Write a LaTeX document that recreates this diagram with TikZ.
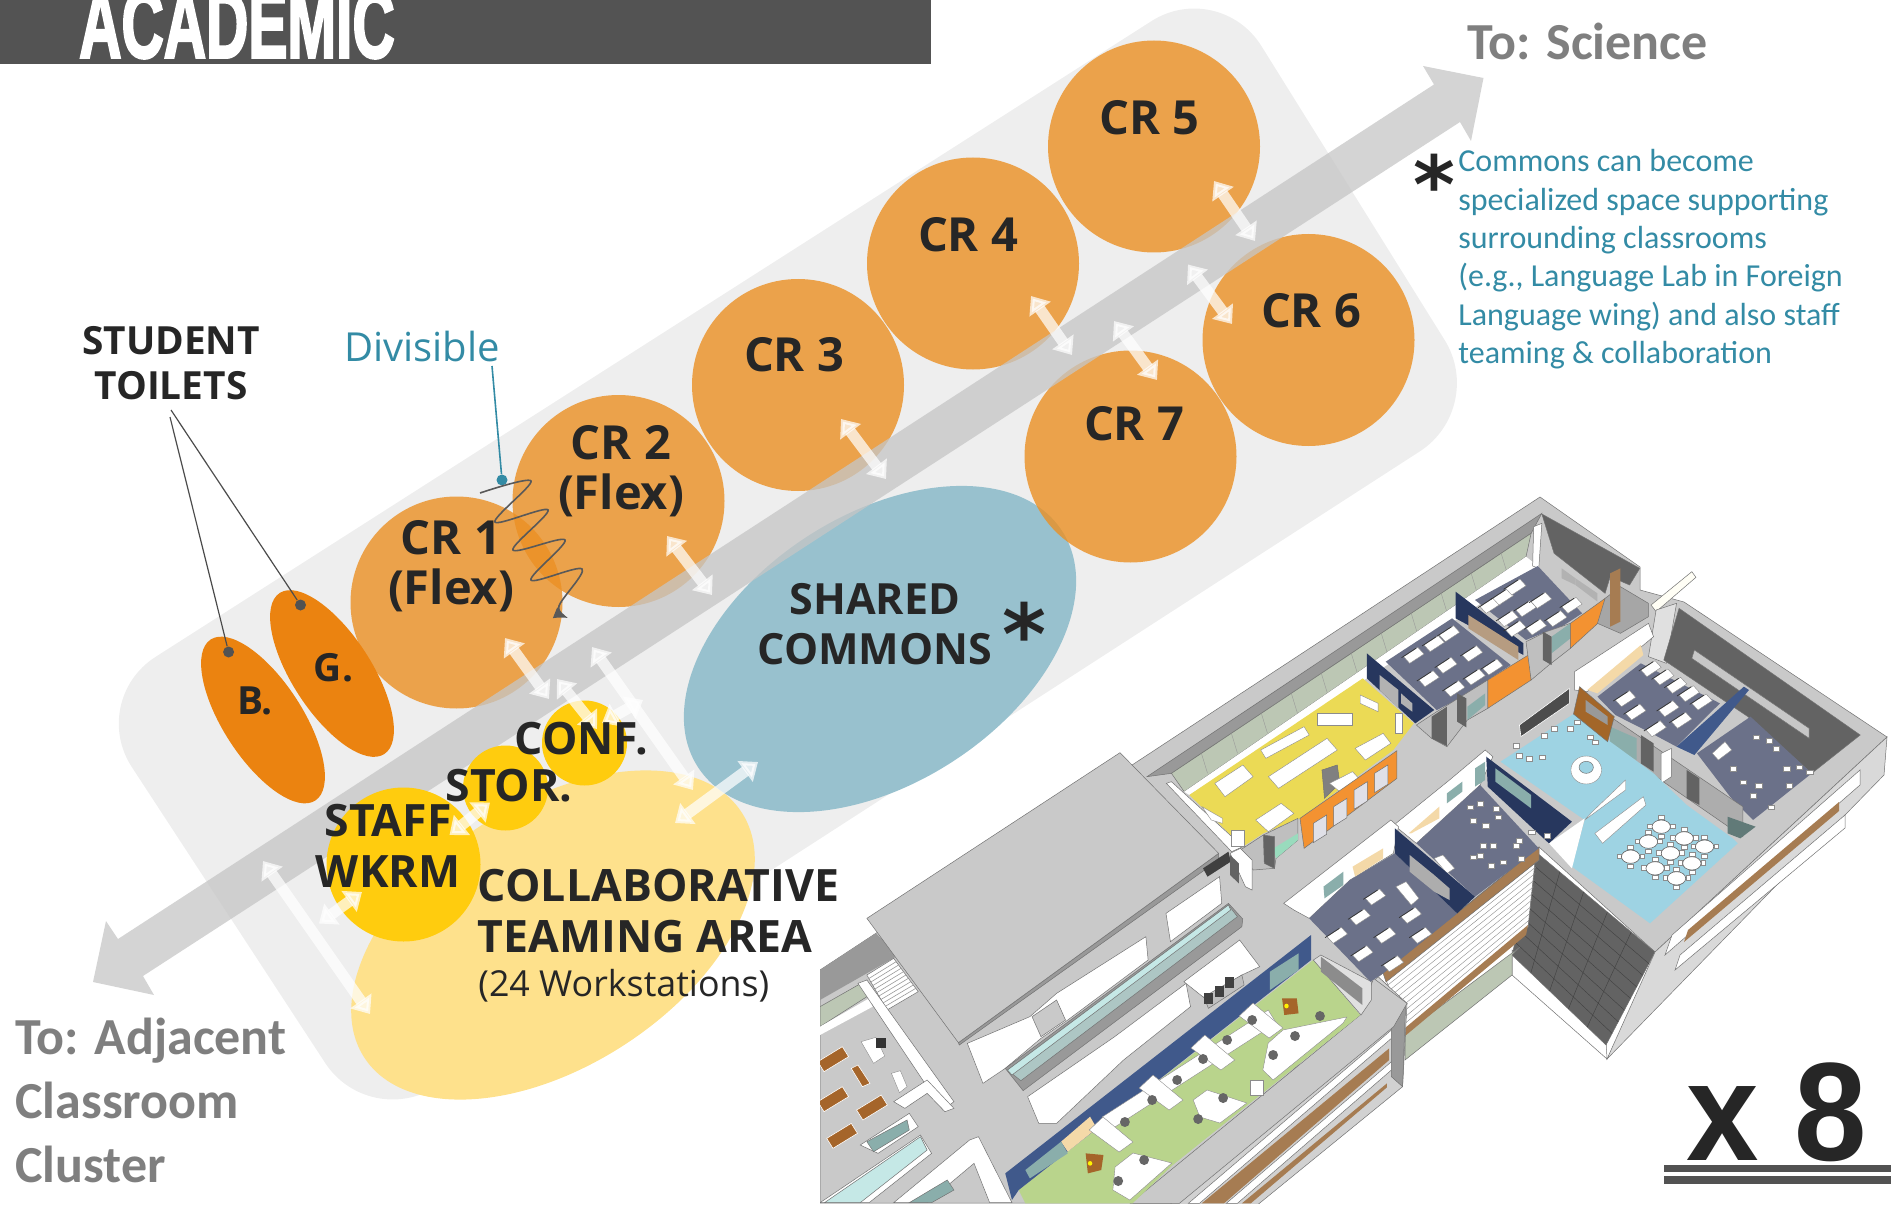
\documentclass[tikz,border=0pt]{standalone}
\usepackage{fontspec}
\setmainfont{Open Sans}
\newfontfamily\calfont{Carlito}
\newfontfamily\barfont{Liberation Sans}
\newfontfamily\heavyfont[BoldFeatures={FakeBold=3}]{Liberation Sans}
\newfontfamily\starfont{DejaVu Sans}
\usetikzlibrary{arrows.meta,shapes.geometric,calc}
\definecolor{barGrey}{HTML}{535353}
\definecolor{paleBand}{HTML}{EEEEEE}
\definecolor{mainArrow}{RGB}{198,198,198}
\definecolor{crOrange}{RGB}{235,144,35}
\definecolor{wcOrange}{HTML}{EB8310}
\definecolor{commonsBlue}{HTML}{98C1CE}
\definecolor{teamYellow}{HTML}{FEE18C}
\definecolor{smallYellow}{HTML}{FFCC0E}
\definecolor{inkDark}{HTML}{262626}
\definecolor{tealText}{HTML}{338BA5}
\definecolor{toGrey}{HTML}{7F7F7F}
\definecolor{floorGrey}{HTML}{C9C9C9}
\definecolor{rimDark}{HTML}{999999}
\definecolor{wallDark}{HTML}{636363}
\definecolor{slateRoom}{HTML}{6B7189}
\definecolor{navyWall}{HTML}{27375E}
\definecolor{blueWall}{HTML}{40598B}
\definecolor{orangeWall}{HTML}{F39231}
\definecolor{yellowRoom}{HTML}{EBDA55}
\definecolor{greenRoom}{HTML}{B9D48C}
\definecolor{skyRoom}{HTML}{9ED3E3}
\definecolor{glassBand}{HTML}{BCC7B4}
\definecolor{tanPanel}{HTML}{F4D9A8}
\definecolor{brownBand}{HTML}{A67C52}
\definecolor{woodDesk}{HTML}{A5652A}
\definecolor{tealPale}{HTML}{C5E8E6}
\definecolor{tealDeep}{HTML}{8AAEAB}
\newcommand{\deskat}[2]{\filldraw[piece] (#1,#2) -- ++(28,-28) -- ++(12,20) -- ++(-28,28) -- cycle; \draw[black!80,line width=.35pt] (#1-4,#2+3) -- ++(28,-28);}
\newcommand{\seatat}[2]{\filldraw[piece] (#1,#2) rectangle ++(12,14);}
\newcommand{\armat}[2]{\filldraw[piece] (#1,#2) -- ++(67,75) -- ++(-31,30) -- ++(-67,-66) -- cycle;}
\begin{document}
\begin{tikzpicture}[x=0.5pt,y=-0.5pt,
  piece/.style={fill=white,draw=black!45,line width=.2pt},
  zthree/.style={shift={(1100,490)},x=0.2551pt,y=-0.16667pt},
  zfour/.style={shift={(820,740)},x=0.2232pt,y=-0.16667pt},
  bline/.style={draw=black!55,line width=.25pt}]
\useasboundingbox (0,0) rectangle (1900,1209);
\tikzset{crcircle/.style={circle,fill=crOrange,fill opacity=.8,minimum size=106pt,inner sep=0pt}}
\tikzset{wcshape/.style={ellipse,fill=wcOrange,minimum width=96pt,minimum height=39.5pt,inner sep=0pt,rotate=-57}}
\tikzset{smallroom/.style={circle,fill=smallYellow,inner sep=0pt}}
\tikzset{crlabel/.style={font=\fontsize{23.5}{25}\selectfont\bfseries,text=inkDark,align=center,inner sep=0pt}}
\tikzset{roomlabel/.style={font=\fontsize{22.3}{25.5}\selectfont\bfseries,text=inkDark,align=center,inner sep=0pt}}
\tikzset{smalllabel/.style={font=\fontsize{19.4}{22.5}\selectfont\bfseries,text=inkDark,align=center,inner sep=0pt}}
\tikzset{togrey/.style={font=\fontsize{26}{32}\calfont\bfseries,text=toGrey,align=left,inner sep=0pt}}
\tikzset{dblarrow/.style={draw=white,opacity=.72,line width=5.5pt,{Triangle[length=8pt,width=12.5pt]}-{Triangle[length=8pt,width=12.5pt]}}}
\tikzset{leader/.style={draw=black!70,line width=.6pt}}
\tikzset{leaderdot/.style={circle,fill=black!68,minimum size=5.5pt,inner sep=0pt}}
% background band and bar
\fill[paleBand,rounded corners=40pt] (1219,-22) -- (1487,408) -- (369,1130) -- (88,700) -- cycle;
\fill[barGrey] (0,0) rectangle (931,64);
\node[font=\fontsize{48}{48}\heavyfont\bfseries,text=white,anchor=base west,inner sep=0pt,xscale=.61,transform shape] (academic) at (79,57.5) {ACADEMIC};
% big program shapes
\node[ellipse,fill=teamYellow,minimum width=225pt,minimum height=131pt,inner sep=0pt,rotate=33] (team) at (553,935) {};
\node[ellipse,fill=commonsBlue,minimum width=217pt,minimum height=134pt,inner sep=0pt,rotate=33] (commons) at (880,649) {};
\node[crcircle] (cr5) at (1154,146.5) {};
\node[crcircle] (cr4) at (973,263.5) {};
\node[crcircle] (cr6) at (1308.5,340) {};
\node[crcircle] (cr3) at (798,385) {};
\node[crcircle] (cr7) at (1130.5,456.5) {};
\node[crcircle] (cr2) at (618.5,501) {};
\node[crcircle] (cr1) at (456.5,602.5) {};
\node[wcshape] (girls) at (332,673.5) {};
\node[wcshape] (boys) at (263,720) {};
% corridor arrow
\fill[mainArrow,opacity=.76] (1483.5,78) -- (1423,66) -- (1434,84.5) -- (118,939) -- (106,921) -- (93,982) -- (154,995) -- (143,976) -- (1460,122) -- (1471,141) -- cycle;
\node[smallroom,minimum size=77pt] (staff) at (403.5,864.5) {};
\node[smallroom,minimum size=42.5pt] (stor) at (505.5,788) {};
\node[smallroom,minimum size=42.5pt] (conf) at (584.5,743) {};
% movement arrows
\coordinate (ma) at (505,638); \coordinate (mb) at (549,699);
\coordinate (mc) at (667,536); \coordinate (md) at (712,595);
\coordinate (me) at (841,419); \coordinate (mf) at (886,479);
\coordinate (mg) at (1031,296); \coordinate (mh) at (1072,355);
\coordinate (mi) at (1214,181); \coordinate (mj) at (1255,241);
\coordinate (mk) at (1188,264.5); \coordinate (ml) at (1232,324);
\coordinate (mm) at (1114,321); \coordinate (mn) at (1157,380);
\coordinate (mo) at (592,647); \coordinate (mp) at (693,790);
\coordinate (mq) at (557,679); \coordinate (mr) at (597,729);
\coordinate (ms) at (602,723); \coordinate (mt) at (643,700);
\coordinate (mu) at (675,823); \coordinate (mv) at (758,762);
\coordinate (mw) at (449.5,835); \coordinate (mx) at (490,802.5);
\coordinate (my) at (319,923.5); \coordinate (mz) at (362,892);
\coordinate (na) at (263,861); \coordinate (nb) at (370,1014);
\draw[dblarrow] (ma) -- (mb);
\draw[dblarrow] (mc) -- (md);
\draw[dblarrow] (me) -- (mf);
\draw[dblarrow] (mg) -- (mh);
\draw[dblarrow] (mi) -- (mj);
\draw[dblarrow] (mk) -- (ml);
\draw[dblarrow] (mm) -- (mn);
\draw[dblarrow] (mo) -- (mp);
\draw[dblarrow] (mq) -- (mr);
\draw[dblarrow] (ms) -- (mt);
\draw[dblarrow] (mu) -- (mv);
\draw[dblarrow] (mw) -- (mx);
\draw[dblarrow] (my) -- (mz);
\draw[dblarrow] (na) -- (nb);
% labels
\node[crlabel] (lcr5) at (1149.5,118) {CR 5};
\node[crlabel] (lcr4) at (968,234.5) {CR 4};
\node[crlabel] (lcr6) at (1311,310.5) {CR 6};
\node[crlabel] (lcr7) at (1134,423.5) {CR 7};
\node[crlabel] (lcr3) at (794,355) {CR 3};
\node[crlabel] (lcr2) at (621,471.5) {CR 2\\(Flex)};
\node[crlabel] (lcr1) at (451,566) {CR 1\\(Flex)};
\node[smalllabel] (lgirls) at (333.5,668) {G.};
\node[smalllabel] (lboys) at (255,700.5) {B.};
\node[smalllabel] (ltoilets) at (171,363) {STUDENT\\TOILETS};
\node[crlabel,font=\fontsize{21.5}{25}\selectfont\bfseries] (lcommons) at (875,624) {SHARED\\COMMONS};
\node[roomlabel] (lconf) at (581.5,739) {CONF.};
\node[roomlabel] (lstor) at (509,786) {STOR.};
\node[roomlabel] (lstaff) at (388,846) {STAFF\\WKRM};
\node[roomlabel,align=left,anchor=north west] (lteam) at (477.5,869) {COLLABORATIVE\\TEAMING AREA};
\node[font=\fontsize{17.9}{22}\selectfont,text=inkDark,anchor=west,inner sep=0pt] (lworkst) at (478,986) {(24 Workstations)};
\node[font=\fontsize{20}{26}\selectfont,text=tealText,inner sep=0pt] (ldivisible) at (422,346) {Divisible};
\node[font=\fontsize{42}{42}\starfont\bfseries,text=inkDark,anchor=base,inner sep=0pt] (starcommons) at (1024,664) {*};
\node[font=\fontsize{40}{40}\starfont\bfseries,text=inkDark,anchor=base,inner sep=0pt] (starnote) at (1434,214) {*};
\node[togrey,anchor=base west] (lscience) at (1467,60) {To: Science};
\node[togrey,anchor=north west] (ladjacent) at (15,1018) {To: Adjacent\\Classroom\\Cluster};
\node[font=\fontsize{16}{19.2}\calfont,text=tealText,align=left,anchor=north west,inner sep=0pt] (lnote) at (1458,149) {Commons can become\\specialized space supporting\\surrounding classrooms\\(e.g., Language Lab in Foreign\\Language wing) and also staff\\teaming \& collaboration};
% leaders
\node[leaderdot,fill=tealText] (dotdiv) at (502,480) {};
\node[leaderdot] (dotg) at (300.5,605) {};
\node[leaderdot] (dotb) at (228.6,652) {};
\coordinate (divtop) at (492,366);
\coordinate (wctopa) at (171,410);
\coordinate (wctopb) at (170,417);
\draw[draw=tealText,line width=.8pt] (divtop) -- (dotdiv);
\draw[leader] (wctopa) -- (dotg);
\draw[leader] (wctopb) -- (dotb);
\draw[draw=black!65,line width=.8pt,-{Latex[length=7pt,width=6pt]}] plot[smooth,tension=.55] coordinates {(480,493) (531,481) (495,522) (548,510) (513,550) (565,540) (531,580) (582,569) (559,606) (568,618)};
% x 8
\node[font=\fontsize{70}{70}\barfont\bfseries,text=inkDark,anchor=base west,inner sep=0pt,xscale=.93,transform shape] (times) at (1686,1160) {x 8};
\fill[black!68] (1664,1165) rectangle (1891,1172);
\fill[black!68] (1664,1176) rectangle (1891,1184);
% building
\begin{scope}
\clip (820,480) rectangle (1900,1203);
\filldraw[fill=floorGrey,bline] (820,970) -- (1540,497) -- (1640,567) -- (1640,590) -- (1684,602) -- (1887,737) -- (1655,952) -- (1539,847) -- (1378,977) -- (1407,1003) -- (1177,1203) -- (820,1203) -- cycle;
% tower faces
\filldraw[fill=white,bline] (1512,950) -- (1606,1040) -- (1607,1059) -- (1512,975) -- cycle;
\filldraw[fill=wallDark,bline] (1536,852) -- (1655,952) -- (1606,1045) -- (1512,955) -- cycle;
\foreach \s in {1,2,3,4} \draw[black!75,line width=.2pt] ($(1536,852)!\s/5!(1655,952)$) -- ($(1512,955)!\s/5!(1606,1045)$);
\foreach \s in {1,...,7} \draw[black!75,line width=.2pt] ($(1536,852)!\s/8!(1512,955)$) -- ($(1655,952)!\s/8!(1606,1045)$);
\filldraw[fill=black!15,bline] (1655,952) -- (1887,737) -- (1884,775) -- (1607,1059) -- cycle;
\filldraw[fill=white,bline] (1860,770) -- (1672,935) -- (1665,955) -- (1860,785) -- cycle;
\filldraw[fill=brownBand,draw=none] (1839,802) -- (1688,930) -- (1684,942) -- (1839,811) -- cycle;
\filldraw[fill=white,bline] (1845,815) -- (1680,955) -- (1675,970) -- (1845,828) -- cycle;
% central facade
\filldraw[fill=glassBand,bline] (1405,1033) -- (1520,947) -- (1512,955) -- (1512,975) -- (1405,1060) -- cycle;
\filldraw[fill=white,bline] (1386,980) -- (1539,860) -- (1536,852) -- (1528,927) -- (1405,1030) -- cycle;
\foreach \s in {1,...,9} \draw[black!45,line width=.2pt] ($(1386,980)!\s/10!(1405,1030)$) -- ($(1537,860)!\s/10!(1528,927)$);
\fill[brownBand] (1405,1028) -- (1528,925) -- (1526,935) -- (1405,1036) -- cycle;
\filldraw[fill=brownBand,bline] (1383,973) -- (1539,847) -- (1539,860) -- (1386,982) -- cycle;
% south wing
\begin{scope}[zfour]
\filldraw[fill=floorGrey!85,bline] (1250,710) -- (1315,790) -- (1305,1040) -- (975,1400) -- (780,1400) -- cycle;
\filldraw[fill=rimDark,bline] (1280,860) -- (1312,790) -- (1305,1040) -- (1280,1010) -- cycle;
\filldraw[fill=white,bline] (825,1390) -- (1280,870) -- (1280,895) -- (850,1390) -- cycle;
\fill[brownBand] (855,1390) -- (1275,925) -- (1275,960) -- (905,1390) -- cycle;
\filldraw[fill=white,bline] (910,1390) -- (1280,965) -- (1280,990) -- (935,1390) -- cycle;
\fill[brownBand] (945,1390) -- (1270,1030) -- (1270,1042) -- (965,1390) -- cycle;
\filldraw[fill=floorGrey,bline] (1240,715) -- (1315,790) -- (1285,860) -- (805,1390) -- (695,1390) -- (795,1280) -- (1210,825) -- cycle;
% green room
\fill[greenRoom] (1105,660) -- (1210,825) -- (790,1275) -- (700,1390) -- (460,1390) -- (445,1350) -- cycle;
\filldraw[fill=black!12,bline] (1105,660) -- (1122,645) -- (1235,725) -- (1235,780) -- (1212,825) -- cycle;
\fill[black!45] (1122,650) -- (1215,745) -- (1215,795) -- (1122,695) -- cycle;
\fill[blueWall] (1100,585) -- (1100,660) -- (445,1350) -- (430,1380) -- (415,1300) -- cycle;
\fill[tealDeep] (1008,695) -- (1072,640) -- (1072,690) -- (1008,750) -- cycle;
\fill[tanPanel] (540,1205) -- (605,1130) -- (620,1165) -- (555,1235) -- cycle;
\fill[tealDeep] (460,1290) -- (540,1205) -- (555,1240) -- (470,1315) -- cycle;
\filldraw[piece] (632,1131) -- (1004,810) -- (1022,849) -- (650,1170) -- cycle;
\foreach \u/\v in {634/1131,746/1005,862/885,970/789} {\armat{\u}{\v}}
\filldraw[piece] (836,1080) -- (867,1050) -- (956,1089) -- (896,1149) -- (851,1131) -- cycle;
\filldraw[piece] (1004,909) -- (1037,870) -- (1180,831) -- (1172,849) -- (1015,1020) -- (992,990) -- cycle;
\filldraw[piece] (661,1281) -- (701,1239) -- (788,1269) -- (694,1380) -- (656,1350) -- cycle;
\filldraw[piece] (963,1020) rectangle (992,1065);
\foreach \u/\v in {683/1146,744/1080,800/1020,858/957,912/900,968/840,1064/888,1015/945,1120/828,903/1074,847/1137,726/1260,668/1323}
  \fill[black!60] (\u,\v) ellipse (11 and 15);
\fill[woodDesk] (1035,775) -- (1068,775) -- (1072,820) -- (1040,825) -- cycle;
\fill[woodDesk] (595,1240) -- (635,1245) -- (630,1290) -- (600,1300) -- cycle;
\fill[yellow] (1045,798) ellipse (5 and 7);
\fill[yellow] (605,1270) ellipse (5 and 7);
% under the roof, offices
\filldraw[fill=white,bline] (330,910) -- (470,830) -- (530,760) -- (730,590) -- (735,660) -- (555,840) -- (495,895) -- (415,985) -- (365,1030) -- cycle;
\filldraw[fill=floorGrey,bline] (475,830) -- (530,780) -- (550,840) -- (495,890) -- cycle;
\filldraw[fill=white,bline] (775,520) -- (895,410) -- (900,490) -- (785,605) -- cycle;
\filldraw[fill=rimDark,bline] (415,985) -- (915,490) -- (947,537) -- (945,560) -- (455,1052) -- cycle;
\filldraw[fill=tealDeep!70,bline] (420,990) -- (915,495) -- (935,530) -- (450,1022) -- cycle;
\filldraw[fill=tealPale,bline] (420,990) -- (915,495) -- (920,510) -- (430,1005) -- cycle;
\filldraw[fill=white,bline] (465,1070) -- (660,890) -- (780,770) -- (820,730) -- (830,800) -- (680,960) -- (530,1150) -- (490,1150) -- cycle;
\filldraw[fill=white,bline] (815,725) -- (940,600) -- (985,680) -- (945,705) -- (862,775) -- cycle;
\filldraw[fill=black!25,bline] (860,770) -- (945,705) -- (950,735) -- (870,805) -- cycle;
\foreach \u/\v in {860/760,885/738,908/712} \fill[black!75] (\u,\v) rectangle ++(20,32);
% west room
\fill[rimDark] (0,770) -- (165,630) -- (125,580) -- (0,690) -- cycle;
\fill[rimDark] (0,750) -- (165,630) -- (170,650) -- (0,780) -- cycle;
\filldraw[fill=glassBand,bline] (0,800) -- (105,720) -- (105,770) -- (0,860) -- cycle;
\filldraw[fill=white,draw=none] (0,860) -- (110,775) -- (118,800) -- (0,885) -- cycle;
\filldraw[fill=white,bline] (105,705) -- (165,655) -- (220,755) -- (150,810) -- cycle;
\foreach \s in {1,...,9} \draw[black!40,line width=.3pt] ($(105,705)!\s/10!(150,810)$) -- ($(165,655)!\s/10!(220,755)$);
\filldraw[fill=white,bline] (85,730) -- (105,720) -- (300,1085) -- (275,1110) -- cycle;
\filldraw[fill=white,bline] (165,1085) -- (240,1020) -- (300,1105) -- (280,1115) -- (240,1060) -- (190,1105) -- cycle;
\filldraw[fill=white,bline] (90,1215) -- (200,1120) -- (220,1160) -- (130,1240) -- cycle;
\filldraw[fill=tealDeep,bline] (105,1205) -- (195,1140) -- (200,1170) -- (120,1235) -- cycle;
\filldraw[fill=white,bline] (0,1388) -- (225,1185) -- (250,1240) -- (110,1388) -- cycle;
\filldraw[fill=tealPale,bline] (10,1388) -- (225,1190) -- (240,1230) -- (90,1388) -- cycle;
\filldraw[fill=white,bline] (165,1388) -- (335,1200) -- (355,1190) -- (430,1388) -- (380,1388) -- (345,1270) -- (240,1388) -- cycle;
\filldraw[fill=tealDeep,bline] (200,1388) -- (285,1320) -- (300,1350) -- (250,1388) -- cycle;
\foreach \u/\v in {-5/965,-5/1085,82/1110,15/1195} \filldraw[fill=woodDesk,draw=white,line width=.3pt] (\u,\v) -- ++(55,-45) -- ++(14,30) -- ++(-55,45) -- cycle;
\filldraw[fill=woodDesk,draw=white,line width=.3pt] (70,985) -- (85,975) -- (112,1030) -- (95,1040) -- cycle;
\filldraw[piece] (92,905) -- (125,892) -- (145,948) -- (120,970) -- cycle;
\fill[black!80] (125,895) rectangle ++(22,28);
\filldraw[piece] (160,1000) -- (180,992) -- (195,1040) -- (178,1058) -- cycle;
% roof
\filldraw[fill=rimDark,bline] (893,340) -- (893,360) -- (312,915) -- (310,908) -- cycle;
\fill[black!75] (858,385) -- (915,335) -- (920,365) -- (868,410) -- cycle;
\filldraw[fill=floorGrey,bline] (672,38) -- (105,535) -- (310,908) -- (893,340) -- cycle;
\end{scope}
% north wing and rooms
\begin{scope}[zthree]
\filldraw[fill=rimDark,bline] (866,70) -- (92,860) -- (140,850) -- (845,130) -- cycle;
\filldraw[fill=glassBand,bline] (140,850) -- (845,130) -- (835,200) -- (165,905) -- cycle;
\foreach \s in {1,...,11} \draw[black!40,line width=.2pt] ($(140,850)!\s/12!(845,130)$) -- ++(12,60);
\filldraw[fill=white,draw=none] (165,905) -- (835,200) -- (858,228) -- (175,915) -- cycle;
\filldraw[fill=wallDark,bline] (866,72) -- (1058,235) -- (1038,285) -- (1000,260) -- (990,310) -- (890,190) -- cycle;
\filldraw[fill=white,bline] (850,110) -- (866,100) -- (860,235) -- (848,228) -- cycle;
% yellow room
\filldraw[fill=white,bline] (130,880) -- (140,875) -- (280,1070) -- (258,1085) -- cycle;
\fill[yellowRoom] (175,915) -- (515,565) -- (615,700) -- (575,780) -- (392,985) -- (320,1030) -- (280,1070) -- cycle;
\foreach \pp in {{(225,880) -- (280,825) -- (300,860) -- (245,920)},{(315,780) -- (400,710) -- (410,735) -- (325,805)},{(330,860) -- (445,745) -- (465,780) -- (350,895)},{(500,775) -- (555,730) -- (570,760) -- (520,810)},{(305,990) -- (355,940) -- (380,970) -- (330,1025)},{(510,615) -- (545,640) -- (545,665) -- (510,640)},{(200,950) -- (240,985) -- (240,1000) -- (218,990)}}
  \filldraw[piece] \pp -- cycle;
\filldraw[piece] (425,670) rectangle (495,705);
\filldraw[piece] (258,1022) rectangle (282,1070);
\filldraw[piece] (578,670) rectangle (592,730);
\filldraw[fill=black!50,bline] (435,840) -- (465,825) -- (470,880) -- (440,925) -- cycle;
\filldraw[piece] (450,880) -- (495,845) -- (510,870) -- (470,905) -- cycle;
\filldraw[fill=orangeWall,bline] (582,782) -- (582,865) -- (400,1075) -- (392,985) -- cycle;
\foreach \u/\v in {418/1000,458/950,498/900,538/850}
  \filldraw[fill=blue!20!black!20!white!60,bline] (\u,\v) -- ++(26,-25) -- ++(0,58) -- ++(-26,25) -- cycle;
\filldraw[fill=black!25,bline] (275,1080) -- (320,1035) -- (388,985) -- (388,1050) -- (345,1105) -- (342,1135) -- (300,1140) -- cycle;
\fill[green!30!teal!40!white] (340,1075) -- (388,1030) -- (388,1050) -- (345,1105) -- cycle;
\filldraw[fill=wallDark,bline] (320,1035) -- (342,1040) -- (342,1135) -- (322,1120) -- cycle;
\filldraw[fill=white,bline] (255,1090) -- (275,1075) -- (298,1110) -- (298,1200) -- (285,1190) -- cycle;
\filldraw[fill=wallDark,draw=none] (255,1095) -- (272,1120) -- (272,1180) -- (255,1155) -- cycle;
% room beside yellow
\fill[slateRoom] (560,515) -- (690,385) -- (805,525) -- (765,565) -- (725,610) -- (660,660) -- cycle;
\fill[navyWall] (523,490) -- (523,565) -- (618,700) -- (655,660) -- cycle;
\fill[black!30] (548,555) -- (585,600) -- (585,655) -- (548,600) -- cycle;
\fill[black!30] (590,610) -- (612,640) -- (612,665) -- (590,640) -- cycle;
\foreach \u/\v in {595/500,635/465,665/435,710/495,660/530,715/565,675/600,625/570,750/535} {\deskat{\u}{\v}}
\filldraw[fill=black!25,bline] (620,705) -- (660,665) -- (760,570) -- (760,655) -- (720,690) -- (680,770) -- (650,745) -- cycle;
\filldraw[fill=wallDark,draw=none] (650,680) -- (680,650) -- (680,768) -- (650,745) -- cycle;
\fill[tealDeep] (720,650) -- (755,610) -- (755,645) -- (720,690) -- cycle;
\filldraw[fill=wallDark,draw=none] (700,610) -- (718,625) -- (718,712) -- (700,695) -- cycle;
\filldraw[fill=orangeWall,bline] (760,570) -- (845,490) -- (845,570) -- (760,655) -- cycle;
% end room
\fill[slateRoom] (735,330) -- (858,228) -- (945,370) -- (905,410) -- (875,425) -- (835,450) -- cycle;
\fill[navyWall] (697,305) -- (830,460) -- (830,495) -- (697,385) -- cycle;
\fill[brown!70!black!60!white] (722,375) -- (820,470) -- (820,510) -- (722,415) -- cycle;
\foreach \u/\v in {745/350,770/325,795/295,780/390,815/360,845/335,795/420,835/415,875/390,905/350} {\deskat{\u}{\v}}
\filldraw[fill=black!25,bline] (835,455) -- (875,425) -- (922,400) -- (922,475) -- (880,525) -- (845,570) -- cycle;
\fill[tealDeep] (885,440) -- (922,400) -- (922,445) -- (885,490) -- cycle;
\filldraw[fill=wallDark,draw=none] (868,425) -- (885,440) -- (885,525) -- (868,510) -- cycle;
\filldraw[fill=orangeWall,bline] (922,400) -- (990,325) -- (990,380) -- (922,475) -- cycle;
\fill[black!30] (905,235) -- (932,265) -- (932,285) -- (905,265) -- cycle;
\fill[black!30] (932,265) -- (975,310) -- (975,335) -- (932,285) -- cycle;
\filldraw[fill=black!35,bline] (990,325) -- (1020,290) -- (1075,340) -- (1075,380) -- (1020,430) -- (975,400) -- cycle;
\fill[brownBand] (1000,250) -- (1020,235) -- (1020,395) -- (1000,410) -- cycle;
% east block
\filldraw[fill=white!96!yellow,bline] (1080,345) -- (1160,245) -- (1168,262) -- (1090,365) -- cycle;
\filldraw[fill=black!12,bline] (1090,360) -- (1130,340) -- (1110,520) -- (1075,500) -- cycle;
\filldraw[fill=wallDark,bline] (1135,355) -- (1490,735) -- (1395,850) -- (1270,680) -- (1105,510) -- cycle;
\filldraw[fill=black!22,bline] (1165,480) -- (1390,715) -- (1390,745) -- (1160,505) -- cycle;
\fill[slateRoom] (975,620) -- (1060,520) -- (1215,640) -- (1130,770) -- (1075,725) -- (1010,675) -- cycle;
\filldraw[fill=white,bline] (930,545) -- (1075,400) -- (1085,440) -- (955,605) -- (930,600) -- cycle;
\fill[tanPanel] (955,600) -- (1060,465) -- (1065,495) -- (975,610) -- cycle;
\foreach \u/\v in {1010/630,1060/540,1085/565,1110/590,1135/615,1160/640,1095/660,1120/695,1030/670,1070/720} {\deskat{\u}{\v}}
\fill[slateRoom] (1170,790) -- (1275,680) -- (1395,850) -- (1280,990) -- (1235,920) -- cycle;
\foreach \u/\v in {1280/735,1305/745,1320/770,1340/830,1365/825,1385/840,1235/830,1255/870,1285/880,1275/910,1310/945,1345/880} {\seatat{\u}{\v}}
\filldraw[piece] (1200,790) -- (1225,755) -- (1238,780) -- (1212,810) -- cycle;
\fill[blueWall] (1130,770) -- (1262,590) -- (1272,600) -- (1165,795) -- cycle;
\filldraw[fill=black!32,bline] (1000,680) -- (1260,950) -- (1260,1040) -- (1000,765) -- cycle;
\fill[tealDeep] (1000,710) -- (1052,745) -- (1052,810) -- (1000,770) -- cycle;
\filldraw[fill=wallDark,draw=none] (1060,735) -- (1085,760) -- (1085,845) -- (1060,820) -- cycle;
\filldraw[fill=white,bline] (1100,790) -- (1120,775) -- (1120,860) -- (1100,880) -- cycle;
\filldraw[fill=wallDark,draw=none] (1150,840) -- (1175,865) -- (1175,945) -- (1150,925) -- cycle;
\fill[tealDeep!70!black] (1230,980) -- (1285,1010) -- (1255,1045) -- (1230,1030) -- cycle;
\fill[skyRoom] (785,815) -- (930,670) -- (1000,755) -- (1085,850) -- (1150,945) -- (1240,1045) -- (1250,1060) -- (1078,1300) -- (925,1130) -- (950,990) -- cycle;
\filldraw[fill=black!70,draw=white,line width=.3pt] (822,705) -- (920,595) -- (920,640) -- (825,740) -- cycle;
\filldraw[fill=brown!80!orange!80!black,bline] (940,590) -- (1008,680) -- (995,755) -- (928,672) -- cycle;
\fill[black!40] (952,630) -- (995,680) -- (995,705) -- (952,665) -- cycle;
\foreach \u/\v in {810/760,815/790,835/800,860/795,865/730,885/710,915/710,930/690,955/735,965/750}
  {\seatat{\u}{\v}}
\filldraw[piece] (953,840) ellipse (30 and 42);
\filldraw[fill=skyRoom,bline] (953,832) ellipse (14 and 18);
\filldraw[piece] (965,965) -- (1030,870) -- (1030,900) -- (950,990) -- cycle;
\filldraw[piece] (970,1030) -- (1065,920) -- (1070,945) -- (985,1060) -- cycle;
\foreach \u/\v in {1100/1010,1075/1055,1145/1045,1185/1070,1118/1090,1160/1120,1040/1100,1088/1135,1130/1165}
{
  \filldraw[piece] (\u-27,\v-8) rectangle ++(9,14);
  \filldraw[piece] (\u+18,\v-8) rectangle ++(9,14);
  \filldraw[piece] (\u-6,\v-34) rectangle ++(12,12);
  \filldraw[piece] (\u-6,\v+22) rectangle ++(12,12);
  \filldraw[fill=white,draw=black!60,line width=.3pt] (\u,\v) ellipse (18 and 20);
}
\fill[white] (880,1060) -- (950,985) -- (925,1135) -- cycle;
% south rooms
\filldraw[fill=white,bline] (580,1000) -- (685,870) -- (755,780) -- (770,800) -- (745,885) -- (620,1060) -- (580,1010) -- cycle;
\fill[tanPanel] (605,1030) -- (665,950) -- (665,985) -- (610,1030) -- cycle;
\fill[tealDeep] (680,910) -- (710,875) -- (710,905) -- (680,940) -- cycle;
\fill[tealDeep] (735,835) -- (755,815) -- (755,870) -- (735,890) -- cycle;
\fill[slateRoom] (620,1060) -- (745,885) -- (860,1075) -- (735,1220) -- cycle;
\fill[navyWall] (757,800) -- (925,995) -- (880,1060) -- (760,890) -- cycle;
\fill[tealDeep] (775,835) -- (845,915) -- (845,955) -- (775,875) -- cycle;
\foreach \u/\v in {720/945,740/935,770/950,775/975,750/1000,725/985,745/1060,765/1060,740/1090,725/1095,760/1120,785/1110,815/1045,840/1020,870/1030,820/1100,810/1060} {\seatat{\u}{\v}}
\filldraw[piece] (655,1105) -- (672,1095) -- (695,1135) -- (680,1150) -- cycle;
\filldraw[fill=white,bline] (360,1240) -- (570,990) -- (585,1010) -- (575,1090) -- (490,1170) -- (410,1285) -- (380,1260) -- cycle;
\fill[tanPanel] (495,1130) -- (555,1075) -- (555,1105) -- (500,1160) -- cycle;
\fill[tealDeep] (438,1190) -- (477,1145) -- (477,1185) -- (440,1225) -- cycle;
\fill[slateRoom] (410,1285) -- (490,1170) -- (578,1090) -- (700,1270) -- (555,1450) -- (530,1475) -- cycle;
\fill[navyWall] (578,1015) -- (735,1220) -- (700,1270) -- (578,1090) -- cycle;
\fill[black!32] (607,1095) -- (655,1155) -- (655,1205) -- (607,1145) -- cycle;
\fill[black!32] (655,1155) -- (685,1195) -- (685,1230) -- (655,1205) -- cycle;
\foreach \u/\v in {445/1340,490/1285,520/1225,495/1395,540/1340,590/1280,555/1425,610/1340} {\deskat{\u}{\v}}
\filldraw[piece] (580,1190) -- (600,1175) -- (625,1225) -- (610,1245) -- cycle;
\end{scope}
\end{scope}
\end{tikzpicture}
\end{document}
